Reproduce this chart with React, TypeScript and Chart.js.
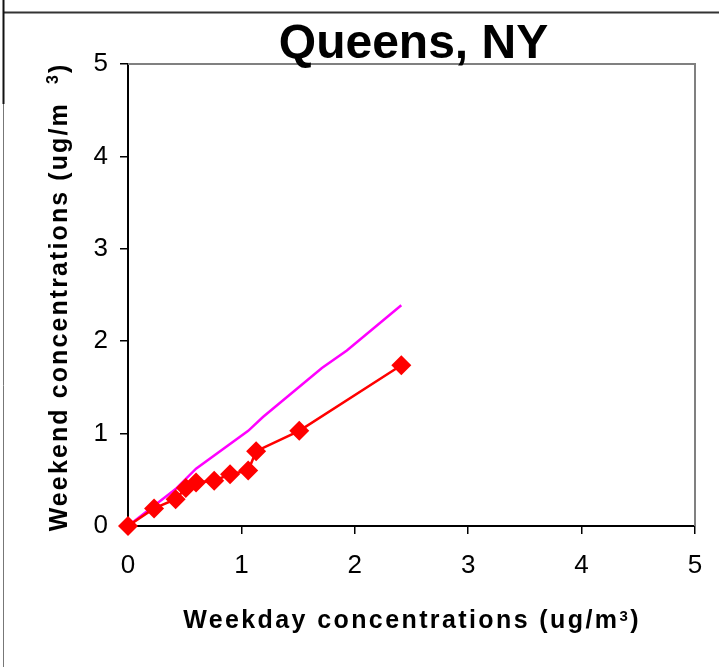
import React, { useEffect, useRef } from "react";
import { Chart, registerables } from "chart.js";

Chart.register(...registerables);

const TITLE = "Queens, NY";
const X_TITLE_PARTS = ["Weekday concentrations (ug/m", "3", ")"];
const Y_TITLE_PARTS = ["Weekend concentrations (ug/m  ", "3", ")"];
const TICK_VALUES = [0, 1, 2, 3, 4, 5];

const weekdayX = [0, 0.23, 0.42, 0.51, 0.6, 0.76, 0.9, 1.06, 1.13, 1.51, 2.41];
const weekendY = [0, 0.19, 0.29, 0.41, 0.47, 0.49, 0.56, 0.6, 0.81, 1.03, 1.74];

const refX = [0, 0.23, 0.42, 0.6, 1.06, 1.19, 1.71, 1.93, 2.41];
const refY = [0, 0.22, 0.4, 0.62, 1.03, 1.18, 1.71, 1.9, 2.39];

const FONT = "'Liberation Sans', Arial, sans-serif";

function drawParts(
  ctx: CanvasRenderingContext2D,
  parts: string[],
  cx: number,
  baseY: number,
  mainSize: number,
  supSize: number,
  supRaise: number,
  spacing: number
) {
  ctx.save();
  (ctx as any).letterSpacing = spacing + "px";
  ctx.textAlign = "left";
  ctx.textBaseline = "alphabetic";
  ctx.fillStyle = "#000";
  const fonts = parts.map((_, i) => (i === 1 ? `bold ${supSize}px ${FONT}` : `bold ${mainSize}px ${FONT}`));
  const widths = parts.map((p, i) => {
    ctx.font = fonts[i];
    return ctx.measureText(p).width;
  });
  const total = widths.reduce((a, b) => a + b, 0);
  let x = cx - total / 2;
  parts.forEach((p, i) => {
    ctx.font = fonts[i];
    ctx.fillText(p, x, i === 1 ? baseY - supRaise : baseY);
    x += widths[i];
  });
  ctx.restore();
}

const decorPlugin = {
  id: "decor",
  afterDraw(chart: any) {
    const { ctx, chartArea } = chart;
    const { left, right, top, bottom } = chartArea;
    ctx.save();
    ctx.strokeStyle = "#808080";
    ctx.lineWidth = 2;
    ctx.beginPath();
    ctx.moveTo(left, top);
    ctx.lineTo(right, top);
    ctx.lineTo(right, bottom);
    ctx.stroke();
    ctx.strokeStyle = "#333";
    ctx.lineWidth = 2;
    ctx.beginPath();
    ctx.moveTo(3, 12.5);
    ctx.lineTo(719, 12.5);
    ctx.stroke();
    ctx.strokeStyle = "#111";
    ctx.beginPath();
    ctx.moveTo(3.5, 0);
    ctx.lineTo(3.5, 104);
    ctx.stroke();
    ctx.strokeStyle = "#777";
    ctx.lineWidth = 1;
    ctx.beginPath();
    ctx.moveTo(3.5, 104);
    ctx.lineTo(3.5, 667);
    ctx.stroke();
    ctx.fillStyle = "#000";
    ctx.font = `bold 48px ${FONT}`;
    ctx.textAlign = "center";
    ctx.textBaseline = "alphabetic";
    ctx.fillText(TITLE, 413.5, 58);
    ctx.restore();
    drawParts(ctx, X_TITLE_PARTS, 412, 628, 25, 15, 7, 2.4);
    ctx.save();
    ctx.translate(67, 297);
    ctx.rotate(-Math.PI / 2);
    drawParts(ctx, Y_TITLE_PARTS, 0, 0, 25, 16, 9, 2.1);
    ctx.restore();
  },
};

export default function App() {
  const ref = useRef<HTMLCanvasElement>(null);
  useEffect(() => {
    if (!ref.current) return;
    const chart = new Chart(ref.current, {
      type: "scatter",
      data: {
        datasets: [
          {
            label: "Weekend vs weekday",
            data: weekdayX.map((x, i) => ({ x, y: weekendY[i] })),
            showLine: true,
            clip: false,
            borderColor: "#FF0000",
            backgroundColor: "#FF0000",
            borderWidth: 2.5,
            pointStyle: "rectRot",
            pointRadius: 10,
            pointBorderWidth: 0,
            pointBorderColor: "#FF0000",
          },
          {
            label: "1:1",
            data: refX.map((x, i) => ({ x, y: refY[i] })),
            showLine: true,
            clip: false,
            borderColor: "#FF00FF",
            backgroundColor: "#FF00FF",
            borderWidth: 2.5,
            pointRadius: 0,
          },
        ],
      },
      options: {
        responsive: false,
        animation: false,
        layout: { padding: { left: 70, top: 64, right: 24, bottom: 40 } },
        plugins: {
          legend: { display: false },
          title: { display: false },
          tooltip: { enabled: false },
        },
        scales: {
          x: {
            type: "linear",
            min: 0,
            max: 5,
            afterBuildTicks: (s: any) => {
              s.ticks = TICK_VALUES.map((v) => ({ value: v }));
            },
            afterFit: (s: any) => {
              s.height = 667 - 526 - 40;
            },
            ticks: {
              color: "#000",
              padding: 16,
              font: { family: FONT, size: 26 },
              maxRotation: 0,
            },
            grid: {
              display: true,
              drawOnChartArea: false,
              drawTicks: true,
              tickLength: 8,
              color: "#000",
              lineWidth: 1.5,
            },
            border: { display: true, color: "#000", width: 2 },
          },
          y: {
            type: "linear",
            min: 0,
            max: 5,
            afterBuildTicks: (s: any) => {
              s.ticks = TICK_VALUES.map((v) => ({ value: v }));
            },
            afterFit: (s: any) => {
              s.width = 128 - 70;
            },
            ticks: {
              color: "#000",
              padding: 12,
              font: { family: FONT, size: 26 },
            },
            grid: {
              display: true,
              drawOnChartArea: false,
              drawTicks: true,
              tickLength: 8,
              color: "#000",
              lineWidth: 1.5,
            },
            border: { display: true, color: "#000", width: 2 },
          },
        },
      },
      plugins: [decorPlugin],
    });
    return () => chart.destroy();
  }, []);
  return (
    <div style={{ position: "fixed", left: 0, top: 0, width: 719, height: 667, background: "#fff" }}>
      <canvas ref={ref} width={719} height={667} />
    </div>
  );
}
